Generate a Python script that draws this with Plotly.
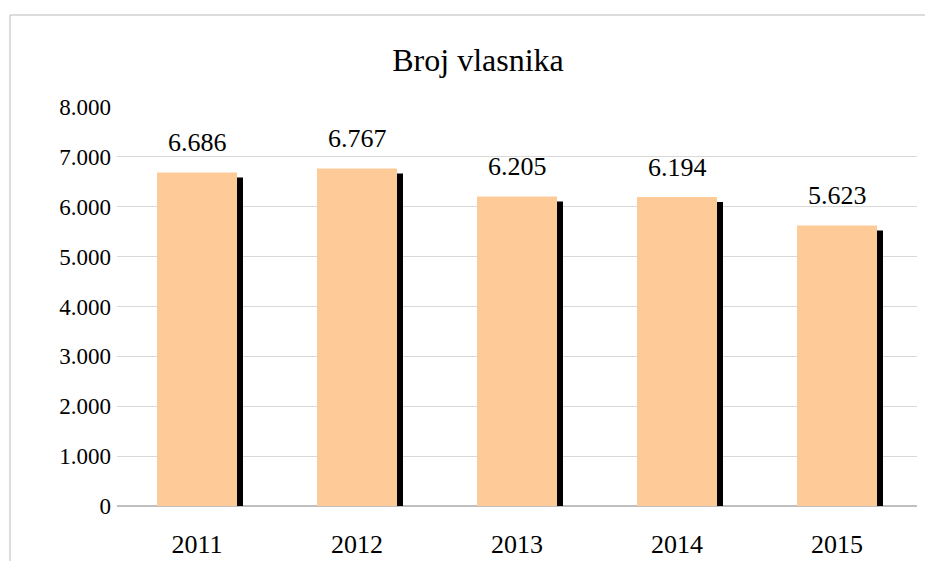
import plotly.graph_objects as go

years = ["2011", "2012", "2013", "2014", "2015"]
owners = [6686, 6767, 6205, 6194, 5623]
y_ticks = [0, 1000, 2000, 3000, 4000, 5000, 6000, 7000, 8000]
title_text = "Broj vlasnika"

FONT = "Liberation Serif, Times New Roman, serif"
BAR_W = 0.5
SHADOW_DX = 0.0375
SHADOW_DY = 100

def fmt(v):
    return f"{v:,}".replace(",", ".")

fig = go.Figure()
# shadow
fig.add_trace(go.Bar(
    x=years, y=owners, base=[-SHADOW_DY] * len(owners),
    width=BAR_W, offset=-BAR_W / 2 + SHADOW_DX,
    marker=dict(color="#000000", line=dict(width=0)),
    hoverinfo="skip", showlegend=False,
))
fig.add_trace(go.Bar(
    x=years, y=owners,
    width=BAR_W, offset=-BAR_W / 2,
    marker=dict(color="#FDCA98", line=dict(width=0)),
    showlegend=False,
))

for i, v in enumerate(owners):
    fig.add_annotation(x=i, y=v, text=fmt(v), showarrow=False,
                       yanchor="middle", yshift=30,
                       font=dict(family=FONT, size=26, color="#000000"))

# page body has an 8px margin: figure is drawn 8px in from the window corner
OFF = 8
W, H = 933 - OFF, 561 - OFF
L, R, T, B = 117 - OFF, 16, 107 - OFF, 55
pw, ph = W - L - R, H - T - B

def px_x(p):
    return (p - OFF - L) / pw

def px_y(p):
    return (H - B - (p - OFF)) / ph

fig.add_shape(type="line", xref="paper", yref="paper",
              x0=px_x(10), x1=px_x(940), y0=px_y(15), y1=px_y(15),
              line=dict(color="#D0D0D0", width=1.5))
fig.add_shape(type="line", xref="paper", yref="paper",
              x0=px_x(10), x1=px_x(10), y0=px_y(15), y1=px_y(570),
              line=dict(color="#D0D0D0", width=1.5))

fig.update_layout(
    width=W, height=H,
    margin=dict(l=L, r=R, t=T, b=B, autoexpand=False),
    paper_bgcolor="#FFFFFF", plot_bgcolor="#FFFFFF",
    barmode="overlay",
    separators=",.",
    font=dict(family=FONT, size=23, color="#000000"),
    title=dict(text=title_text, x=(478 - OFF) / W, xanchor="center",
               y=1 - (60 - OFF) / H, yanchor="middle",
               font=dict(family=FONT, size=32, color="#000000")),
    xaxis=dict(type="category", categoryorder="array", categoryarray=years,
               range=[-0.5, len(years) - 0.5],
               showgrid=False, showline=False, zeroline=False, ticks="",
               automargin=False,
               tickfont=dict(family=FONT, size=26), ticklabelstandoff=20),
    yaxis=dict(range=[0, 8000], tickvals=y_ticks, tickformat=",d",
               automargin=False,
               showgrid=True, gridcolor="#D9D9D9", gridwidth=1,
               zeroline=True, zerolinecolor="#BFBFBF", zerolinewidth=2,
               showline=False, ticks="", ticklabelstandoff=5,
               tickfont=dict(family=FONT, size=23)),
)

fig.write_html("out.html")
